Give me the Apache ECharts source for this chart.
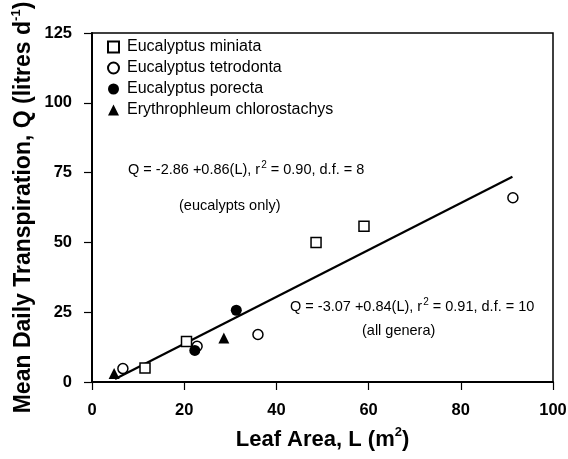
<!DOCTYPE html>
<html>
<head>
<meta charset="utf-8">
<script src="https://cdn.jsdelivr.net/npm/echarts@6/dist/echarts.min.js"></script>
<style>
  html, body { margin: 0; padding: 0; background: #fff; }
  #main { width: 568px; height: 459px; }
</style>
</head>
<body>
<div id="main"></div>
<script>
// data: [leaf area m2, transpiration litres/day]
var miniata = [[11.5, 5.0], [20.5, 14.5], [48.6, 50.0], [59.0, 55.8]];
var tetrodonta = [[6.7, 4.8], [22.8, 12.8], [36.0, 17.0], [91.3, 66.0]];
var porecta = [[22.3, 11.3], [31.3, 25.7]];
var erythrophleum = [[4.8, 3.0], [28.6, 15.8]];
// all genera regression, end points as drawn
var fitLine = [[5.0, 1.1], [91.2, 73.5]];

var xTicks = [0, 20, 40, 60, 80, 100];
var yTicks = [0, 25, 50, 75, 100, 125];

var myChart = echarts.init(document.getElementById('main'));

var FONT = 'Liberation Sans, Arial, sans-serif';
// small raised text for r2, m2, d-1
var supRich = {
    sup: { fontSize: 10, lineHeight: 10, verticalAlign: 'top', padding: [0, 0, 0, 1] }
};
var titleRich = {
    sup: { fontSize: 13, fontWeight: 'bold', lineHeight: 12, verticalAlign: 'top' }
};

var option = {
    backgroundColor: '#fff',
    textStyle: { fontFamily: FONT, color: '#000' },
    grid: {
        left: 92, right: 15, top: 33, bottom: 77,
        outerBoundsMode: 'none', containLabel: false,
        show: true, borderColor: '#000', borderWidth: 1.5
    },
    legend: {
        orient: 'vertical',
        left: 102, top: 34,
        itemWidth: 11, itemHeight: 11, itemGap: 5,
        textStyle: { fontSize: 16, color: '#000', fontFamily: FONT, padding: [0, 0, 0, 3] },
        data: ['Eucalyptus miniata', 'Eucalyptus tetrodonta', 'Eucalyptus porecta', 'Erythrophleum chlorostachys']
    },
    xAxis: {
        type: 'value',
        min: xTicks[0], max: xTicks[xTicks.length - 1], interval: 20,
        name: 'Leaf Area, L (m{sup|2})',
        nameLocation: 'middle', nameGap: 44, nameMoveOverlap: false,
        nameTextStyle: { fontSize: 22, fontWeight: 'bold', color: '#000', lineHeight: 28, rich: titleRich },
        axisLine: { lineStyle: { color: '#000', width: 2 } },
        axisTick: { inside: false, length: 8, lineStyle: { color: '#000', width: 1.2 } },
        axisLabel: { fontSize: 16.5, fontWeight: 'bold', color: '#000', margin: 20 },
        splitLine: { show: false }
    },
    yAxis: {
        type: 'value',
        min: yTicks[0], max: yTicks[yTicks.length - 1], interval: 25,
        name: 'Mean Daily Transpiration, Q (litres d{sup|-1})',
        nameLocation: 'middle', nameGap: 54, nameRotate: 90, nameMoveOverlap: false,
        nameTextStyle: { fontSize: 23, fontWeight: 'bold', color: '#000', lineHeight: 28, rich: titleRich },
        axisLine: { lineStyle: { color: '#000', width: 2 } },
        axisTick: { inside: false, length: 8, lineStyle: { color: '#000', width: 1.2 } },
        axisLabel: { fontSize: 16.5, fontWeight: 'bold', color: '#000', margin: 20 },
        splitLine: { show: false }
    },
    graphic: [
        {
            type: 'text', left: 128, top: 160,
            style: { text: 'Q = -2.86 +0.86(L), r{sup|2} = 0.90, d.f. = 8', fontSize: 14.5, lineHeight: 20, fill: '#000', fontFamily: FONT, rich: supRich }
        },
        {
            type: 'text', left: 179, top: 198,
            style: { text: '(eucalypts only)', fontSize: 14.5, fill: '#000', fontFamily: FONT }
        },
        {
            type: 'text', left: 290, top: 297,
            style: { text: 'Q = -3.07 +0.84(L), r{sup|2} = 0.91, d.f. = 10', fontSize: 14.5, lineHeight: 20, fill: '#000', fontFamily: FONT, rich: supRich }
        },
        {
            type: 'text', left: 362, top: 323,
            style: { text: '(all genera)', fontSize: 14.5, fill: '#000', fontFamily: FONT }
        }
    ],
    series: [
        {
            name: 'fit', type: 'line', data: fitLine, symbol: 'none', silent: true,
            lineStyle: { color: '#000', width: 2.2 }, z: 1
        },
        {
            name: 'Eucalyptus miniata', type: 'scatter', data: miniata,
            symbol: 'rect', symbolSize: 10,
            itemStyle: { color: '#fff', borderColor: '#000', borderWidth: 1.5, opacity: 1 }
        },
        {
            name: 'Eucalyptus tetrodonta', type: 'scatter', data: tetrodonta,
            symbol: 'circle', symbolSize: 10,
            itemStyle: { color: '#fff', borderColor: '#000', borderWidth: 1.5, opacity: 1 }
        },
        {
            name: 'Eucalyptus porecta', type: 'scatter', data: porecta,
            symbol: 'circle', symbolSize: 11,
            itemStyle: { color: '#000', opacity: 1 }
        },
        {
            name: 'Erythrophleum chlorostachys', type: 'scatter', data: erythrophleum,
            symbol: 'triangle', symbolSize: 11,
            itemStyle: { color: '#000', opacity: 1 }
        }
    ]
};

myChart.setOption(option);
</script>
</body>
</html>
